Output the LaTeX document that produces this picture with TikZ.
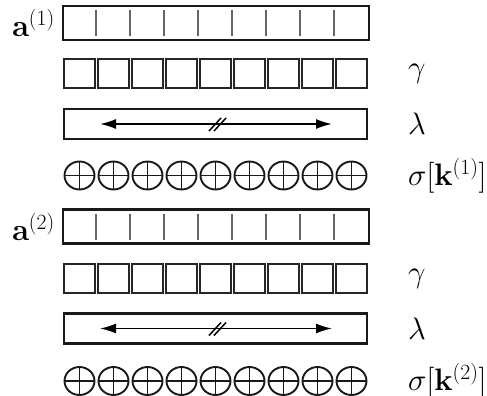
\documentclass[tikz,border=0pt]{standalone}
\usepackage{fix-cm}
\usetikzlibrary{arrows.meta,shapes.geometric,calc}
\begin{document}
\begin{tikzpicture}[x=1pt,y=-1pt,
  frame/.style={draw=black!90, line width=2.4pt},
  tickline/.style={draw=black!60, line width=1.5pt},
  cell/.style={draw=black!85, line width=2pt, minimum width=31pt, minimum height=29pt, inner sep=0pt, outer sep=0pt},
  xorc/.style={ellipse, draw=black!90, line width=1.9pt, minimum width=30pt, minimum height=28pt, inner sep=0pt,
    path picture={\draw[line width=1.9pt,black!90]
      (path picture bounding box.north) -- (path picture bounding box.south)
      (path picture bounding box.west) -- (path picture bounding box.east);}},
  lbl/.style={font=\fontsize{31}{36}\selectfont, inner sep=0pt},
  dblarrow/.style={line width=1.6pt, {Latex[length=16pt,width=10pt]}-{Latex[length=16pt,width=10pt]}},
  slashmark/.style={line width=1.5pt}]
\useasboundingbox (0,0) rectangle (487,396);
\foreach \i/\ya/\yg/\yl/\ys in {1/23/73.5/124/175.5, 2/226.5/278.5/328.5/381}{
  % state row
  \node[frame, minimum width=306pt, minimum height=34pt, inner sep=0pt] (a\i) at (216,\ya) {};
  \foreach \k in {1,...,8}{
    \draw[tickline] ($(a\i.west)+(34*\k,-13)$) -- ($(a\i.west)+(34*\k,13)$);
  }
  \node[lbl, anchor=east] (la\i) at (55,\ya) {$\mathbf{a}^{(\i)}$};
  % gamma row
  \foreach \k in {0,...,8}{
    \node[cell] (g\i\k) at (79.5+34*\k,\yg) {};
  }
  \node[lbl, anchor=west] (lg\i) at (408,\yg) {$\gamma$};
  % lambda row
  \node[frame, line width=2.2pt, minimum width=303pt, minimum height=30pt, inner sep=0pt] (l\i) at (215.5,\yl) {};
  \coordinate (ls\i) at (100,\yl);
  \coordinate (le\i) at (332,\yl);
  \draw[dblarrow] (ls\i) -- (le\i);
  \coordinate (sm\i) at (219,\yl);
  \draw[slashmark] ($(sm\i)+(-10,7)$) -- ($(sm\i)+(2,-6)$);
  \draw[slashmark] ($(sm\i)+(-5,7)$) -- ($(sm\i)+(7,-6)$);
  \node[lbl, anchor=west] (ll\i) at (408,\yl) {$\lambda$};
  % sigma row
  \foreach \k in {0,...,8}{
    \node[xorc] (s\i\k) at (79.5+34*\k,\ys) {};
  }
  \node[lbl, anchor=west] (sl\i) at (408,\ys) {$\sigma[\mathbf{k}^{(\i)}]$};
}
\end{tikzpicture}
\end{document}
